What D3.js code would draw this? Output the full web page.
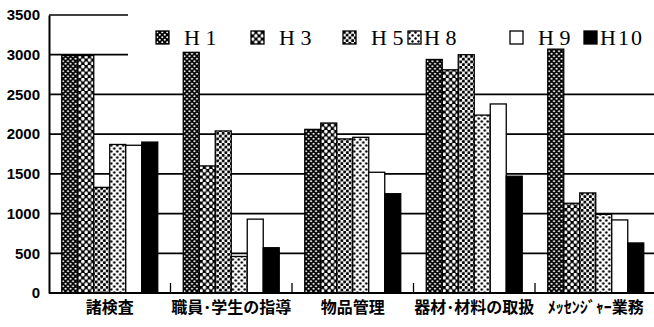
<!DOCTYPE html>
<html>
<head>
<meta charset="utf-8">
<script src="https://cdn.jsdelivr.net/npm/d3@7"></script>
<style>
  html, body { margin: 0; padding: 0; background: #fff; }
  svg { display: block; }
</style>
</head>
<body>
<svg id="chart" width="654" height="327"></svg>
<script>
// Work categories (x axis)
const categories = ["諸検査", "職員･学生の指導", "物品管理", "器材･材料の取扱", "ﾒｯｾﾝｼﾞｬｰ業務"];
// Survey years (series)
const seriesKeys = ["H1", "H3", "H5", "H8", "H9", "H10"];
const seriesLabels = ["H 1", "H 3", "H 5", "H 8", "H 9", "H10"];
// Values per series, in category order
const valuesH1  = [2990, 3030, 2060, 2940, 3070];
const valuesH3  = [2990, 1600, 2140, 2810, 1130];
const valuesH5  = [1330, 2040, 1940, 3000, 1260];
const valuesH8  = [1870, 460, 1960, 2240, 990];
const valuesH9  = [1860, 930, 1520, 2380, 920];
const valuesH10 = [1900, 570, 1250, 1470, 630];
// Y axis ticks
const yTicks = [0, 500, 1000, 1500, 2000, 2500, 3000, 3500];

const seriesValues = [valuesH1, valuesH3, valuesH5, valuesH8, valuesH9, valuesH10];
const rows = categories.map((c, i) => ({
  category: c,
  values: seriesKeys.map((k, s) => ({ key: k, value: seriesValues[s][i] }))
}));

const svg = d3.select("#chart");
const defs = svg.append("defs");

// Fill patterns: dotted screens for the first four series
function dotPattern(id, size, r, bg, fg) {
  const p = defs.append("pattern").attr("id", id)
    .attr("patternUnits", "userSpaceOnUse")
    .attr("width", size).attr("height", size);
  p.append("rect").attr("width", size).attr("height", size).attr("fill", bg);
  p.append("circle").attr("cx", size / 4).attr("cy", size / 4).attr("r", r).attr("fill", fg);
  p.append("circle").attr("cx", size * 3 / 4).attr("cy", size * 3 / 4).attr("r", r).attr("fill", fg);
}
dotPattern("pH1", 5, 1.05, "#000", "#fff");
dotPattern("pH3", 6.5, 1.75, "#000", "#fff");
dotPattern("pH5", 5.5, 1.55, "#fff", "#000");
dotPattern("pH8", 6, 1.25, "#fff", "#000");

const fills = {
  H1: "url(#pH1)", H3: "url(#pH3)", H5: "url(#pH5)", H8: "url(#pH8)",
  H9: "#fff", H10: "#000"
};

const plotLeft = 49, plotRight = 656.5, plotTop = 15, plotBottom = 293;

const y = d3.scaleLinear().domain([0, 3500]).range([plotBottom, plotTop]);
const x0 = d3.scaleBand().domain(categories).range([plotLeft, plotRight])
  .paddingInner(0.21).paddingOuter(0.105);
const x1 = d3.scaleBand().domain(seriesKeys).range([0, x0.bandwidth()]);

// Horizontal grid lines
svg.append("g").selectAll("line").data(yTicks.filter(t => t > 0)).join("line")
  .attr("x1", plotLeft).attr("x2", 654)
  .attr("y1", d => y(d)).attr("y2", d => y(d))
  .attr("stroke", "#000").attr("stroke-width", 1.7);

// Legend box (white, hides the upper grid lines behind it)
svg.append("rect").attr("x", 128).attr("y", 0).attr("width", 526).attr("height", 62)
  .attr("fill", "#fff");

// Bars
const groups = svg.append("g").selectAll("g").data(rows).join("g")
  .attr("transform", d => `translate(${x0(d.category)},0)`);
groups.selectAll("rect").data(d => d.values).join("rect")
  .attr("x", d => x1(d.key))
  .attr("y", d => y(d.value))
  .attr("width", x1.bandwidth())
  .attr("height", d => y(0) - y(d.value))
  .attr("fill", d => fills[d.key])
  .attr("stroke", "#000").attr("stroke-width", 1.3);

// Y axis
const yAxis = d3.axisLeft(y).tickValues(yTicks).tickSize(0).tickPadding(9)
  .tickFormat(d3.format("d"));
const gy = svg.append("g").attr("transform", `translate(${plotLeft},0)`).call(yAxis);
gy.select(".domain").attr("stroke", "#000").attr("stroke-width", 2);
gy.selectAll("text")
  .attr("font-family", "'Liberation Sans', Arial, sans-serif")
  .attr("font-size", 15).attr("font-weight", "bold").attr("fill", "#000");

// X axis: baseline, small separators between groups, category labels
const step = x0.step();
const xAxis = d3.axisBottom(x0).tickSize(0).tickPadding(9);
const gx = svg.append("g").attr("transform", `translate(0,${plotBottom})`).call(xAxis);
gx.select(".domain").attr("d", `M${plotLeft},0H654`).attr("stroke", "#000").attr("stroke-width", 2);
gx.selectAll("text")
  .attr("font-family", "'Noto Sans CJK JP', sans-serif")
  .attr("font-size", 16).attr("font-weight", "bold").attr("fill", "#000");

svg.append("g").selectAll("line").data(categories.slice(1)).join("line")
  .attr("x1", d => x0(d) - step * x0.paddingInner() / 2)
  .attr("x2", d => x0(d) - step * x0.paddingInner() / 2)
  .attr("y1", plotBottom).attr("y2", plotBottom - 10)
  .attr("stroke", "#000").attr("stroke-width", 1.3);

// Legend
const legendX = [156, 251, 343, 408, 510, 584];
const legend = svg.append("g").selectAll("g").data(seriesKeys).join("g")
  .attr("transform", (d, i) => `translate(${legendX[i]},31)`);
legend.append("rect")
  .attr("width", 13).attr("height", 13)
  .attr("fill", d => fills[d])
  .attr("stroke", "#000").attr("stroke-width", 1.3);
legend.append("text")
  .attr("x", (d, i) => i === 3 || i === 5 ? 16 : 28)
  .attr("y", 14)
  .attr("font-family", "'Liberation Serif', 'DejaVu Serif', serif")
  .attr("font-size", 22)
  .attr("letter-spacing", (d, i) => i === 5 ? 2 : 0)
  .attr("fill", "#000")
  .text((d, i) => seriesLabels[i]);
</script>
</body>
</html>
